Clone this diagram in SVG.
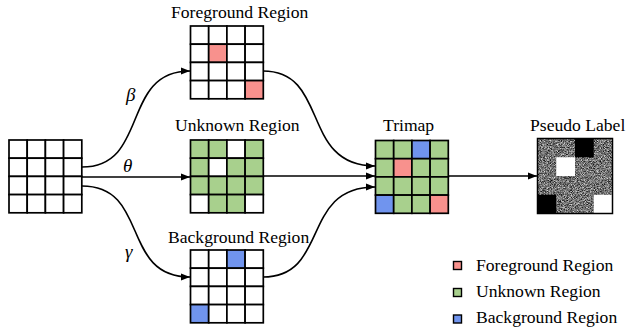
<svg xmlns="http://www.w3.org/2000/svg" width="627" height="329" viewBox="0 0 627 329">
<style>
.t{font-family:"Liberation Serif","Times New Roman",serif;font-size:17.6px;fill:#000}
.g{font-family:"Liberation Serif","Times New Roman",serif;font-size:19px;font-style:italic;fill:#000}
.c{stroke:#000;stroke-width:1.7;fill:#fff}
.P{fill:#F8918D}.G{fill:#A8D08D}.B{fill:#7094EE}
.ln{fill:none;stroke:#000;stroke-width:1.6}
.lg{stroke:#000;stroke-width:1.4}
</style>
<defs>
<marker id="ah" markerUnits="userSpaceOnUse" markerWidth="10" markerHeight="8" refX="9" refY="4" orient="auto">
<path d="M0,0.5 L9,4 L0,7.5 Z" fill="#000"/>
</marker>
<filter id="noise" x="0" y="0" width="100%" height="100%" color-interpolation-filters="sRGB">
<feTurbulence type="fractalNoise" baseFrequency="1.3" numOctaves="1" seed="7"/>
<feColorMatrix type="matrix" values="1 0 0 0 0 1 0 0 0 0 1 0 0 0 0 0 0 0 0 1"/>
<feComponentTransfer>
<feFuncR type="linear" slope="1.5" intercept="-0.3"/>
<feFuncG type="linear" slope="1.5" intercept="-0.3"/>
<feFuncB type="linear" slope="1.5" intercept="-0.3"/>
</feComponentTransfer>
</filter>
</defs>

<g id="connectors">
<path class="ln" d="M82,167 C150,167 120,71 190,71" marker-end="url(#ah)"/>
<path class="ln" d="M82,177 L190,177" marker-end="url(#ah)"/>
<path class="ln" d="M82,186 C150,186 120,277 190,277" marker-end="url(#ah)"/>
<path class="ln" d="M263,71 C330,71 300,166 375,166" marker-end="url(#ah)"/>
<path class="ln" d="M263,176 L375,176" marker-end="url(#ah)"/>
<path class="ln" d="M263,277 C330,277 300,187 375,187" marker-end="url(#ah)"/>
<path class="ln" d="M448,176 L537,176" marker-end="url(#ah)"/>
<text class="g" x="126" y="101">β</text>
<text class="g" x="123" y="172">θ</text>
<text class="g" x="125" y="258">γ</text>
</g>

<g id="input">
<g class="c">
<rect x="9" y="140" width="18.2" height="18.2"/><rect x="27.2" y="140" width="18.2" height="18.2"/><rect x="45.4" y="140" width="18.2" height="18.2"/><rect x="63.6" y="140" width="18.2" height="18.2"/>
<rect x="9" y="158.2" width="18.2" height="18.2"/><rect x="27.2" y="158.2" width="18.2" height="18.2"/><rect x="45.4" y="158.2" width="18.2" height="18.2"/><rect x="63.6" y="158.2" width="18.2" height="18.2"/>
<rect x="9" y="176.4" width="18.2" height="18.2"/><rect x="27.2" y="176.4" width="18.2" height="18.2"/><rect x="45.4" y="176.4" width="18.2" height="18.2"/><rect x="63.6" y="176.4" width="18.2" height="18.2"/>
<rect x="9" y="194.6" width="18.2" height="18.2"/><rect x="27.2" y="194.6" width="18.2" height="18.2"/><rect x="45.4" y="194.6" width="18.2" height="18.2"/><rect x="63.6" y="194.6" width="18.2" height="18.2"/>
</g>
</g>

<g id="foreground">
<text class="t" x="171" y="18">Foreground Region</text>
<g class="c" transform="translate(190.5,26)">
<rect x="0" y="0" width="18.2" height="18.2"/><rect x="18.2" y="0" width="18.2" height="18.2"/><rect x="36.4" y="0" width="18.2" height="18.2"/><rect x="54.6" y="0" width="18.2" height="18.2"/>
<rect x="0" y="18.2" width="18.2" height="18.2"/><rect class="P" x="18.2" y="18.2" width="18.2" height="18.2"/><rect x="36.4" y="18.2" width="18.2" height="18.2"/><rect x="54.6" y="18.2" width="18.2" height="18.2"/>
<rect x="0" y="36.4" width="18.2" height="18.2"/><rect x="18.2" y="36.4" width="18.2" height="18.2"/><rect x="36.4" y="36.4" width="18.2" height="18.2"/><rect x="54.6" y="36.4" width="18.2" height="18.2"/>
<rect x="0" y="54.6" width="18.2" height="18.2"/><rect x="18.2" y="54.6" width="18.2" height="18.2"/><rect x="36.4" y="54.6" width="18.2" height="18.2"/><rect class="P" x="54.6" y="54.6" width="18.2" height="18.2"/>
</g>
</g>

<g id="unknown">
<text class="t" x="175" y="131">Unknown Region</text>
<g class="c" transform="translate(190.5,140)">
<rect class="G" x="0" y="0" width="18.2" height="18.2"/><rect class="G" x="18.2" y="0" width="18.2" height="18.2"/><rect x="36.4" y="0" width="18.2" height="18.2"/><rect class="G" x="54.6" y="0" width="18.2" height="18.2"/>
<rect class="G" x="0" y="18.2" width="18.2" height="18.2"/><rect x="18.2" y="18.2" width="18.2" height="18.2"/><rect class="G" x="36.4" y="18.2" width="18.2" height="18.2"/><rect class="G" x="54.6" y="18.2" width="18.2" height="18.2"/>
<rect class="G" x="0" y="36.4" width="18.2" height="18.2"/><rect class="G" x="18.2" y="36.4" width="18.2" height="18.2"/><rect class="G" x="36.4" y="36.4" width="18.2" height="18.2"/><rect class="G" x="54.6" y="36.4" width="18.2" height="18.2"/>
<rect x="0" y="54.6" width="18.2" height="18.2"/><rect class="G" x="18.2" y="54.6" width="18.2" height="18.2"/><rect class="G" x="36.4" y="54.6" width="18.2" height="18.2"/><rect x="54.6" y="54.6" width="18.2" height="18.2"/>
</g>
</g>

<g id="background">
<text class="t" x="168" y="243">Background Region</text>
<g class="c" transform="translate(190.5,250)">
<rect x="0" y="0" width="18.2" height="18.2"/><rect x="18.2" y="0" width="18.2" height="18.2"/><rect class="B" x="36.4" y="0" width="18.2" height="18.2"/><rect x="54.6" y="0" width="18.2" height="18.2"/>
<rect x="0" y="18.2" width="18.2" height="18.2"/><rect x="18.2" y="18.2" width="18.2" height="18.2"/><rect x="36.4" y="18.2" width="18.2" height="18.2"/><rect x="54.6" y="18.2" width="18.2" height="18.2"/>
<rect x="0" y="36.4" width="18.2" height="18.2"/><rect x="18.2" y="36.4" width="18.2" height="18.2"/><rect x="36.4" y="36.4" width="18.2" height="18.2"/><rect x="54.6" y="36.4" width="18.2" height="18.2"/>
<rect class="B" x="0" y="54.6" width="18.2" height="18.2"/><rect x="18.2" y="54.6" width="18.2" height="18.2"/><rect x="36.4" y="54.6" width="18.2" height="18.2"/><rect x="54.6" y="54.6" width="18.2" height="18.2"/>
</g>
</g>

<g id="trimap">
<text class="t" x="383" y="131">Trimap</text>
<g class="c" transform="translate(375.5,140.5)">
<rect class="G" x="0" y="0" width="18.2" height="18.2"/><rect class="G" x="18.2" y="0" width="18.2" height="18.2"/><rect class="B" x="36.4" y="0" width="18.2" height="18.2"/><rect class="G" x="54.6" y="0" width="18.2" height="18.2"/>
<rect class="G" x="0" y="18.2" width="18.2" height="18.2"/><rect class="P" x="18.2" y="18.2" width="18.2" height="18.2"/><rect class="G" x="36.4" y="18.2" width="18.2" height="18.2"/><rect class="G" x="54.6" y="18.2" width="18.2" height="18.2"/>
<rect class="G" x="0" y="36.4" width="18.2" height="18.2"/><rect class="G" x="18.2" y="36.4" width="18.2" height="18.2"/><rect class="G" x="36.4" y="36.4" width="18.2" height="18.2"/><rect class="G" x="54.6" y="36.4" width="18.2" height="18.2"/>
<rect class="B" x="0" y="54.6" width="18.2" height="18.2"/><rect class="G" x="18.2" y="54.6" width="18.2" height="18.2"/><rect class="G" x="36.4" y="54.6" width="18.2" height="18.2"/><rect class="P" x="54.6" y="54.6" width="18.2" height="18.2"/>
</g>
</g>

<g id="pseudo-label">
<text class="t" x="530" y="131">Pseudo Label</text>
<rect x="537.5" y="138.5" width="75" height="75" fill="#808080" filter="url(#noise)"/>
<rect x="575" y="138.5" width="18.75" height="18.75" fill="#000"/>
<rect x="556.25" y="157.25" width="18.75" height="18.75" fill="#fff"/>
<rect x="537.5" y="194.75" width="18.75" height="18.75" fill="#000"/>
<rect x="593.75" y="194.75" width="18.75" height="18.75" fill="#fff"/>
<rect x="537.5" y="138.5" width="75" height="75" fill="none" stroke="#000" stroke-width="1.5"/>
</g>

<g id="legend">
<rect class="lg P" x="453.5" y="261.5" width="8" height="8"/>
<text class="t" x="476" y="271">Foreground Region</text>
<rect class="lg G" x="453.5" y="288.5" width="8" height="8"/>
<text class="t" x="476" y="297">Unknown Region</text>
<rect class="lg B" x="453.5" y="315" width="8" height="8"/>
<text class="t" x="476" y="323">Background Region</text>
</g>
</svg>
